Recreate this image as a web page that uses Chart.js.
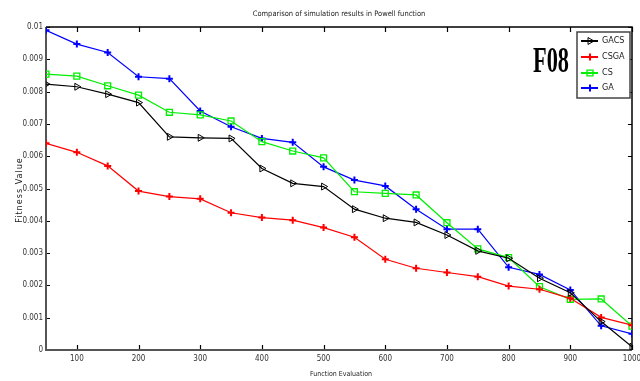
<!DOCTYPE html>
<html>
<head>
<meta charset="utf-8">
<script src="https://cdn.jsdelivr.net/npm/chart.js@4/dist/chart.umd.min.js"></script>
<style>
html,body{margin:0;padding:0;background:#fff;}
#wrap{width:640px;height:381px;position:relative;}
</style>
</head>
<body>
<div id="wrap"><canvas id="c" width="640" height="381"></canvas></div>
<script>
const evals = [50,100,150,200,250,300,350,400,450,500,550,600,650,700,750,800,850,900,950,1000];
const gacs = [0.00823,0.00815,0.00792,0.00766,0.0066,0.00657,0.00655,0.00562,0.00516,0.00506,0.00436,0.00408,0.00395,0.00356,0.00307,0.00284,0.00222,0.00177,0.00088,0.0001];
const csga = [0.0064,0.00612,0.0057,0.00492,0.00475,0.00468,0.00425,0.0041,0.00402,0.00379,0.00349,0.00281,0.00253,0.0024,0.00227,0.00198,0.00188,0.0016,0.00101,0.00077];
const cs = [0.00854,0.00848,0.00818,0.00789,0.00736,0.00728,0.00709,0.00645,0.00616,0.00595,0.0049,0.00485,0.0048,0.00394,0.00313,0.00286,0.00196,0.00157,0.00158,0.00074];
const ga = [0.0099,0.00947,0.00921,0.00846,0.0084,0.0074,0.00691,0.00655,0.00643,0.00567,0.00526,0.00508,0.00436,0.00374,0.00374,0.00256,0.00234,0.00186,0.00075,0.0005];
const xTicks = [100,200,300,400,500,600,700,800,900,1000];
const yTicks = [0,0.001,0.002,0.003,0.004,0.005,0.006,0.007,0.008,0.009,0.01];
const seriesNames = ['GACS','CSGA','CS','GA'];
const titleText = 'Comparison of simulation results in Powell function';
const xTitle = 'Function Evaluation';
const yTitle = 'Fitness Value';
const tagText = 'F08';

const NARROW = "'Liberation Sans Narrow','DejaVu Sans Condensed',sans-serif";
const colors = ['#000000','#ff0000','#00ee00','#0000ff'];
const styles = [
  {pointStyle:'triangle', pointRotation:90, pointRadius:4, fill:'rgba(0,0,0,0)', bw:1},
  {pointStyle:'cross', pointRotation:0, pointRadius:3.5, fill:'#ff0000', bw:2},
  {pointStyle:'rect', pointRotation:0, pointRadius:4.2, fill:'rgba(0,0,0,0)', bw:1.3},
  {pointStyle:'cross', pointRotation:0, pointRadius:3.5, fill:'#0000ff', bw:2}
];
const allSeries = [gacs, csga, cs, ga];

const datasets = allSeries.map((s,i)=>({
  label: seriesNames[i],
  data: evals.map((x,j)=>({x:x, y:s[j]})),
  borderColor: colors[i],
  backgroundColor: styles[i].fill,
  borderWidth: 1.2,
  pointStyle: styles[i].pointStyle,
  pointRotation: styles[i].pointRotation,
  pointRadius: styles[i].pointRadius,
  pointBorderWidth: styles[i].bw,
  pointBorderColor: colors[i],
  pointBackgroundColor: styles[i].fill,
  tension: 0
}));

const fmtY = v => v===0 ? '0' : parseFloat(v.toFixed(4)).toString();

const framePlugin = {
  id:'frame',
  beforeDatasetsDraw(chart){
    const {ctx, chartArea:a, scales:{x,y}} = chart;
    ctx.save();
    ctx.strokeStyle = '#000';
    ctx.lineWidth = 1.2;
    ctx.beginPath();
    xTicks.forEach(v=>{
      const px = Math.round(x.getPixelForValue(v))+0.5;
      ctx.moveTo(px, a.bottom); ctx.lineTo(px, a.bottom-5);
      ctx.moveTo(px, a.top); ctx.lineTo(px, a.top+5);
    });
    yTicks.forEach(v=>{
      const py = Math.round(y.getPixelForValue(v))+0.5;
      ctx.moveTo(a.left, py); ctx.lineTo(a.left+4, py);
      ctx.moveTo(a.right, py); ctx.lineTo(a.right-4, py);
    });
    ctx.stroke();
    ctx.lineWidth = 1.5;
    ctx.strokeStyle = '#000';
    ctx.beginPath();
    ctx.moveTo(a.left, a.top); ctx.lineTo(a.right, a.top); ctx.lineTo(a.right, a.bottom);
    ctx.stroke();
    ctx.lineWidth = 2;
    ctx.strokeStyle = '#555';
    ctx.beginPath();
    ctx.moveTo(a.left, a.top); ctx.lineTo(a.left, a.bottom); ctx.lineTo(a.right, a.bottom);
    ctx.stroke();
    ctx.restore();
  },
  afterDraw(chart){
    const {ctx, chartArea:a} = chart;
    ctx.save();
    ctx.fillStyle = '#222';
    ctx.textAlign = 'center';
    ctx.textBaseline = 'middle';
    ctx.font = '7.5px ' + NARROW;
    ctx.fillText(titleText, (a.left+a.right)/2, 14);
    ctx.font = '7px ' + NARROW;
    ctx.fillText(xTitle, 341, 374);
    ctx.save();
    ctx.translate(20, 190);
    ctx.rotate(-Math.PI/2);
    ctx.font = '9px ' + NARROW;
    try { ctx.letterSpacing = '1px'; } catch(e) {}
    ctx.fillText(yTitle, 0, 0);
    ctx.restore();
    // F08 tag
    ctx.save();
    ctx.fillStyle = '#000';
    ctx.font = "bold 36px 'Liberation Serif','DejaVu Serif',serif";
    ctx.textAlign = 'right';
    ctx.textBaseline = 'alphabetic';
    ctx.translate(569, 72);
    ctx.scale(0.62, 1);
    ctx.fillText(tagText, 0, 0);
    ctx.restore();
    // legend
    const bx = 577, by = 32, bw = 53, bh = 66;
    ctx.fillStyle = '#fff';
    ctx.fillRect(bx, by, bw, bh);
    ctx.strokeStyle = '#444';
    ctx.lineWidth = 1.5;
    ctx.strokeRect(bx, by, bw, bh);
    const rows = [41, 57, 73, 88];
    seriesNames.forEach((n,i)=>{
      const ry = rows[i];
      ctx.strokeStyle = colors[i];
      ctx.lineWidth = 2;
      ctx.beginPath();
      ctx.moveTo(581, ry); ctx.lineTo(598, ry);
      ctx.stroke();
      ctx.strokeStyle = colors[i];
      ctx.fillStyle = styles[i].fill;
      ctx.lineWidth = styles[i].bw;
      Chart.helpers.drawPoint(ctx, {
        pointStyle: styles[i].pointStyle,
        rotation: styles[i].pointRotation,
        radius: styles[i].pointRadius,
        borderWidth: styles[i].bw
      }, 590, ry);
      ctx.fillStyle = '#222';
      ctx.font = '9px ' + NARROW;
      ctx.textAlign = 'left';
      ctx.textBaseline = 'middle';
      ctx.fillText(n, 602, ry);
    });
    ctx.restore();
  }
};

new Chart(document.getElementById('c'), {
  type:'line',
  data:{datasets},
  options:{
    responsive:false,
    animation:false,
    devicePixelRatio:1,
    layout:{padding:{top:27,right:8,left:0,bottom:0}},
    plugins:{legend:{display:false}, title:{display:false}, tooltip:{enabled:false}},
    scales:{
      x:{
        type:'linear', min:50, max:1000,
        grid:{display:false, drawTicks:false},
        border:{display:false},
        afterBuildTicks: s => { s.ticks = xTicks.map(v=>({value:v})); },
        afterFit: s => { s.height = 31; s.paddingLeft = 0; s.paddingRight = 0; },
        ticks:{padding:4, color:'#333', font:{size:8, family:NARROW}, maxRotation:0, autoSkip:false, callback: v => String(v)}
      },
      y:{
        type:'linear', min:0, max:0.01,
        grid:{display:false, drawTicks:false},
        border:{display:false},
        afterBuildTicks: s => { s.ticks = yTicks.map(v=>({value:v})); },
        afterFit: s => { s.width = 46; s.paddingTop = 0; s.paddingBottom = 0; },
        ticks:{padding:3, color:'#333', font:{size:8, family:NARROW}, autoSkip:false, callback: v => fmtY(v)}
      }
    }
  },
  plugins:[framePlugin]
});
</script>
</body>
</html>
